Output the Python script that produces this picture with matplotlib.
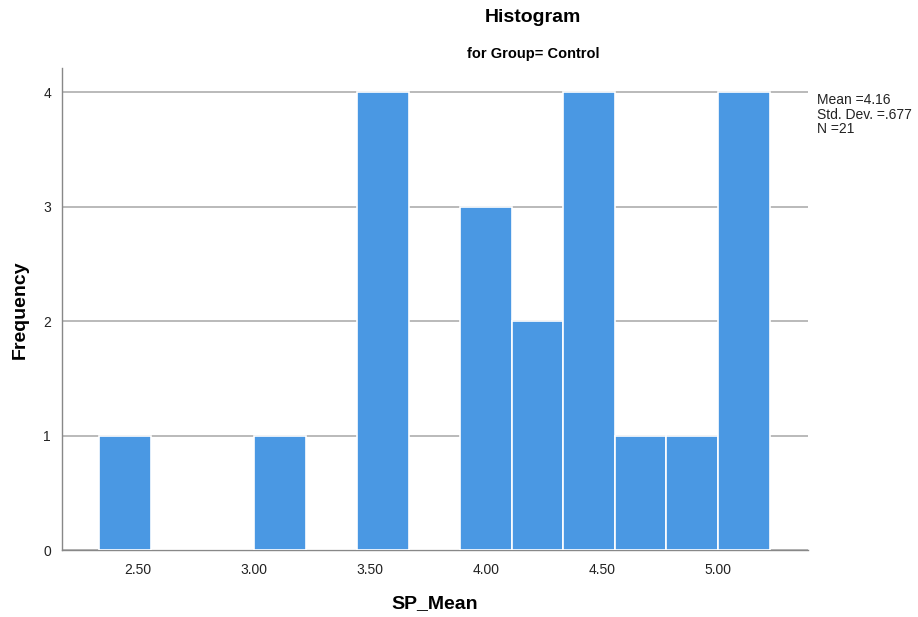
import matplotlib
matplotlib.use("Agg")
import matplotlib.pyplot as plt
import numpy as np

plt.rcParams['font.family'] = ['Liberation Sans', 'DejaVu Sans']

# Histogram bins (width 2/9) and counts
bin_edges = [7/3 + i * 2/9 for i in range(14)]
counts = [1, 0, 0, 1, 0, 4, 0, 3, 2, 4, 1, 1, 4]
xtick_vals = [2.5, 3.0, 3.5, 4.0, 4.5, 5.0]
xtick_labels = ["2.50", "3.00", "3.50", "4.00", "4.50", "5.00"]
ytick_vals = [0, 1, 2, 3, 4]
stats_lines = ["Mean =4.16", "Std. Dev. =.677", "N =21"]

fig = plt.figure(figsize=(9.18, 6.17), dpi=100)
ax = fig.add_axes([62/918, 1 - 550/617, (808 - 62)/918, (550 - 68)/617])

lefts = np.array(bin_edges[:-1])
widths = np.diff(bin_edges)
ax.bar(lefts, counts, width=widths, align='edge', color='#4a98e3',
       edgecolor='white', linewidth=1.2, zorder=3)

ax.set_xlim(2.172, 5.388)
ax.set_ylim(0, 4.21)
ax.set_yticks(ytick_vals)
ax.set_yticklabels([str(v) for v in ytick_vals], fontsize=10, color='#222222')
ax.set_xticks(xtick_vals)
ax.set_xticklabels(xtick_labels, fontsize=10, color='#222222')
ax.tick_params(axis='x', length=0, pad=9)
ax.tick_params(axis='y', length=0, pad=8)
ax.grid(axis='y', color='#b4b4b4', linewidth=1.3, zorder=1)

for s in ['top', 'right']:
    ax.spines[s].set_visible(False)
for s in ['left', 'bottom']:
    ax.spines[s].set_color('#888888')
    ax.spines[s].set_linewidth(1.0)

fig.text(435/918, 1 - 604/617, "SP_Mean", ha='center', va='center',
         fontsize=14, fontweight='bold')
fig.text(20/918, 1 - 310/617, "Frequency", ha='center', va='center',
         rotation=90, fontsize=14, fontweight='bold')

fig.text(533/918, 1 - 18/617, "Histogram", ha='center', va='center',
         fontsize=14, fontweight='bold')
fig.text(533/918, 1 - 54/617, "for Group= Control", ha='center', va='center',
         fontsize=10.5, fontweight='bold')

fig.text(817/918, 1 - 93/617, "\n".join(stats_lines), ha='left', va='top',
         fontsize=10, linespacing=1.05, color='#222222')

fig.savefig("out.png", dpi=100)
